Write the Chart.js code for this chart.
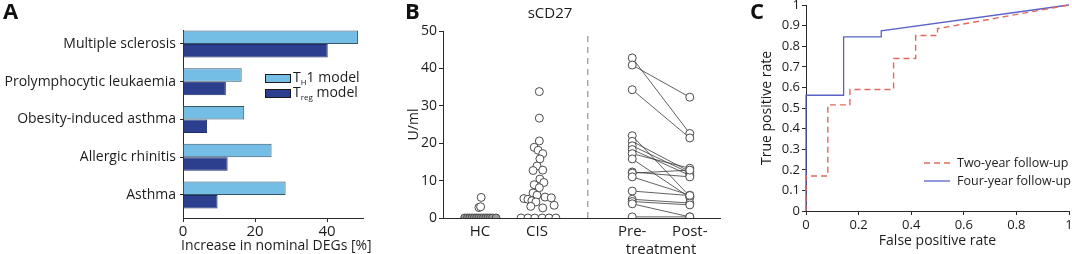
<!DOCTYPE html>
<html>
<head>
<meta charset="utf-8">
<script src="https://cdn.jsdelivr.net/npm/chart.js@4.4.1/dist/chart.umd.min.js"></script>
<style>
  html, body { margin: 0; padding: 0; background: #fff; }
  #wrap { position: relative; width: 1072px; height: 254px; overflow: hidden; }
  canvas { position: absolute; top: 0; }
</style>
</head>
<body>
<div id="wrap">
  <canvas id="chartA" width="380" height="254" style="left:0px"></canvas>
  <canvas id="chartB" width="345" height="254" style="left:380px"></canvas>
  <canvas id="chartC" width="347" height="254" style="left:725px"></canvas>
</div>
<script>
// ---- Panel A data ----
const categories = ['Multiple sclerosis', 'Prolymphocytic leukaemia', 'Obesity-induced asthma', 'Allergic rhinitis', 'Asthma'];
const th1Values = [48.6, 16.3, 17.0, 24.6, 28.5];
const tregValues = [40.2, 11.9, 6.7, 12.4, 9.6];
const xTicksA = [0, 20, 40];
const xTitleA = 'Increase in nominal DEGs [%]';

// ---- Panel B data ----
const groupLabels = ['HC', 'CIS', 'Pre-', ['', 'treatment'], 'Post-'];
const groupPositions = [1, 2, 3.67, 4.175, 4.68];
const hcValues = [0, 0, 0, 0, 0, 0, 0, 0, 0, 0, 0, 0, 0, 0, 2.8, 3.0, 5.5];
const hcOffsets = [-0.27, -0.22, -0.18, -0.14, -0.1, -0.06, -0.02, 0.02, 0.06, 0.1, 0.14, 0.18, 0.22, 0.28, -0.02, 0.01, 0.02];
const cisValues = [33.8, 26.7, 20.6, 18.9, 18.1, 17.2, 15.8, 13.9, 12.7, 12.8, 10.4, 9.5, 8.9, 8.1, 6.7, 6.1, 5.6, 5.2, 5.0, 4.6, 4.3, 5.4, 3.4, 3.1, 2.7, 0, 0, 0, 0, 0, 0];
const cisOffsets = [0.04, 0.04, 0.04, -0.05, 0.02, 0.1, 0.05, 0, -0.07, 0.1, 0.05, 0.12, -0.05, 0.04, -0.07, 0, 0.14, -0.23, -0.16, -0.09, -0.02, 0.25, 0.3, -0.11, 0.1, -0.28, -0.16, -0.04, 0.09, 0.21, 0.33];
const cisMedian = 5.6;
const preValues = [42.8, 40.9, 34.3, 22.0, 20.5, 19.3, 18.3, 17.2, 15.8, 12.3, 12.0, 11.0, 7.2, 5.0, 4.4, 3.8, 0.3];
const postValues = [22.6, 32.3, 21.4, 5.8, 12.4, 12.0, 11.4, 13.3, 5.5, 11.0, 12.8, 6.1, 6.0, 4.0, 3.5, 0.3, 0.3];
const dividerX = 2.89;

// ---- Panel C data ----
const twoYearFpr = [0, 0, 0.083, 0.083, 0.167, 0.167, 0.333, 0.333, 0.417, 0.417, 0.5, 0.5, 1];
const twoYearTpr = [0, 0.17, 0.17, 0.515, 0.515, 0.59, 0.59, 0.74, 0.74, 0.852, 0.852, 0.885, 1];
const fourYearFpr = [0, 0, 0.143, 0.143, 0.286, 0.286, 1];
const fourYearTpr = [0, 0.562, 0.562, 0.845, 0.845, 0.875, 1];

const LIGHT = '#74bde4';
const DARK = '#2b3f8e';
const AXIS = '#2a2a2a';
const RED = '#df6a5e';
const BLUE = '#5a62c6';

Chart.defaults.font.family = "'Open Sans', 'DejaVu Sans', sans-serif";
Chart.defaults.color = '#1c1c1c';
Chart.defaults.animation = false;

// pin a scale's box size and drop the label overhang padding
function pinSize(prop, size) {
    return s => {
        s[prop] = size;
        s.paddingTop = 0;
        s.paddingBottom = 0;
        s.paddingLeft = 0;
        s.paddingRight = 0;
    };
}

// panel letter (A, B, C)
function panelLetter(letter, x, y) {
    return {
        id: 'letter' + letter,
        afterDraw(chart) {
            const ctx = chart.ctx;
            ctx.save();
            ctx.font = "bold 22px 'Open Sans', sans-serif";
            ctx.fillStyle = '#111';
            ctx.textBaseline = 'alphabetic';
            ctx.fillText(letter, x, y);
            ctx.restore();
        }
    };
}

// legend with subscripts + x title for panel A (title is wider than the plot)
const legendA = {
    id: 'legendA',
    afterDraw(chart) {
        const ctx = chart.ctx;
        const rows = [
            {color: LIGHT, sub: 'H', rest: '1 model', y: 78},
            {color: DARK, sub: 'reg', rest: ' model', y: 93}
        ];
        ctx.save();
        rows.forEach(r => {
            ctx.fillStyle = r.color;
            ctx.fillRect(265, r.y - 4, 25, 8);
            ctx.strokeStyle = '#1a1a1a';
            ctx.lineWidth = 1;
            ctx.strokeRect(265.5, r.y - 3.5, 25, 8);
            ctx.fillStyle = '#1c1c1c';
            ctx.textBaseline = 'middle';
            ctx.font = "14px 'Open Sans', sans-serif";
            let x = 293;
            ctx.fillText('T', x, r.y);
            x += ctx.measureText('T').width;
            ctx.font = "8px 'Open Sans', sans-serif";
            ctx.fillText(r.sub, x, r.y + 5);
            x += ctx.measureText(r.sub).width;
            ctx.font = "14px 'Open Sans', sans-serif";
            ctx.fillText(r.rest, x, r.y);
        });
        ctx.font = "14px 'Open Sans', sans-serif";
        ctx.textBaseline = 'middle';
        ctx.fillText(xTitleA, 181, 246);
        ctx.restore();
    }
};

// legend for panel C
const legendC = {
    id: 'legendC',
    afterDraw(chart) {
        const ctx = chart.ctx;
        const rows = [
            {color: RED, dash: [6, 4], text: 'Two-year follow-up', y: 163},
            {color: BLUE, dash: [], text: 'Four-year follow-up', y: 181}
        ];
        ctx.save();
        rows.forEach(r => {
            ctx.strokeStyle = r.color;
            ctx.lineWidth = 1.3;
            ctx.setLineDash(r.dash);
            ctx.beginPath();
            ctx.moveTo(199, r.y);
            ctx.lineTo(225, r.y);
            ctx.stroke();
            ctx.setLineDash([]);
            ctx.fillStyle = '#1c1c1c';
            ctx.font = "12.5px 'Open Sans', sans-serif";
            ctx.textBaseline = 'middle';
            ctx.fillText(r.text, 232, r.y);
        });
        ctx.restore();
    }
};

// ---------- Panel A ----------
new Chart(document.getElementById('chartA'), {
    type: 'bar',
    data: {
        datasets: [
            {
                label: 'TH1 model',
                data: th1Values.map((v, i) => ({x: v, y: i})),
                backgroundColor: LIGHT,
                borderColor: '#36566a',
                borderWidth: 1,
                categoryPercentage: 0.72,
                barPercentage: 1
            },
            {
                label: 'Treg model',
                data: tregValues.map((v, i) => ({x: v, y: i})),
                backgroundColor: DARK,
                borderColor: '#1f2d66',
                borderWidth: 1,
                categoryPercentage: 0.72,
                barPercentage: 1
            }
        ]
    },
    options: {
        indexAxis: 'y',
        responsive: false,
        devicePixelRatio: 1,
        layout: {padding: {left: 0, right: 17, top: 30, bottom: 0}},
        plugins: {legend: {display: false}, tooltip: {enabled: false}},
        scales: {
            x: {
                type: 'linear', min: 0, max: 50,
                afterBuildTicks: s => { s.ticks = xTicksA.map(v => ({value: v})); },
                grid: {drawOnChartArea: false, tickLength: 4, color: AXIS},
                border: {color: AXIS, width: 1},
                ticks: {font: {size: 15}, padding: 1},
                afterFit: pinSize('height', 36)
            },
            y: {
                type: 'linear', reverse: true, min: -0.37, max: 4.61,
                offset: false,
                afterBuildTicks: s => { s.ticks = categories.map((c, i) => ({value: i})); },
                grid: {drawOnChartArea: false, tickLength: 3, color: AXIS, offset: false},
                border: {color: AXIS, width: 1},
                ticks: {font: {size: 14}, padding: 4, callback: v => categories[v]},
                afterFit: pinSize('width', 183)
            }
        }
    },
    plugins: [panelLetter('A', 3, 19), legendA]
});

// ---------- Panel B ----------
const pairLines = preValues.map((v, i) => ({
    type: 'scatter',
    data: [{x: groupPositions[2], y: v}, {x: groupPositions[4], y: postValues[i]}],
    showLine: true,
    borderColor: '#3a3a3a',
    borderWidth: 0.8,
    pointRadius: 0,
    order: 2
}));

const pointStyle = {
    pointRadius: 4,
    pointBorderWidth: 1,
    pointBorderColor: '#4a4a4a',
    order: 0
};

new Chart(document.getElementById('chartB'), {
    type: 'scatter',
    data: {
        datasets: [
            {
                data: [{x: dividerX, y: 0}, {x: dividerX, y: 50}],
                showLine: true, borderColor: '#9a9a9a', borderWidth: 1.3,
                borderDash: [6, 5], pointRadius: 0, order: 3
            },
            ...pairLines,
            {
                data: [{x: groupPositions[1] - 0.3, y: cisMedian}, {x: groupPositions[1] + 0.32, y: cisMedian}],
                showLine: true, borderColor: '#111', borderWidth: 1.4, pointRadius: 0, order: 1
            },
            Object.assign({
                data: hcValues.map((v, i) => ({x: groupPositions[0] + hcOffsets[i], y: v})),
                pointBackgroundColor: hcValues.map(v => v === 0 ? '#9c9c9c' : '#ffffff')
            }, pointStyle),
            Object.assign({
                data: cisValues.map((v, i) => ({x: groupPositions[1] + cisOffsets[i], y: v})),
                pointBackgroundColor: '#ffffff'
            }, pointStyle),
            Object.assign({
                data: preValues.map(v => ({x: groupPositions[2], y: v})),
                pointBackgroundColor: '#ffffff'
            }, pointStyle),
            Object.assign({
                data: postValues.map(v => ({x: groupPositions[4], y: v})),
                pointBackgroundColor: '#ffffff'
            }, pointStyle)
        ]
    },
    options: {
        responsive: false,
        devicePixelRatio: 1,
        layout: {padding: {left: 0, right: 5, top: 0, bottom: 0}},
        plugins: {
            legend: {display: false},
            tooltip: {enabled: false},
            title: {display: true, text: 'sCD27', font: {size: 15, weight: 'normal'}, color: '#1c1c1c', padding: {top: 5, bottom: 8}}
        },
        scales: {
            x: {
                type: 'linear', min: 0.35, max: 5.21,
                afterBuildTicks: s => { s.ticks = groupPositions.map(v => ({value: v})); },
                grid: {drawOnChartArea: false, drawTicks: false},
                border: {color: AXIS, width: 1},
                ticks: {font: {size: 15}, padding: 5, maxRotation: 0, autoSkip: false, callback: (v, i) => groupLabels[i]},
                afterFit: pinSize('height', 36)
            },
            y: {
                type: 'linear', min: 0, max: 50,
                ticks: {stepSize: 10, font: {size: 14}, padding: 2},
                grid: {drawOnChartArea: false, tickLength: 4, color: AXIS},
                border: {color: AXIS, width: 1},
                title: {display: true, text: 'U/ml', font: {size: 14}, padding: {top: 26, bottom: 0}},
                afterFit: pinSize('width', 63)
            }
        }
    },
    plugins: [panelLetter('B', 25, 19)]
});

// ---------- Panel C ----------
const fmt = v => String(Math.round(v * 10) / 10);

new Chart(document.getElementById('chartC'), {
    type: 'scatter',
    data: {
        datasets: [
            {
                label: 'Two-year follow-up',
                data: twoYearFpr.map((v, i) => ({x: v, y: twoYearTpr[i]})),
                showLine: true, borderColor: RED, borderWidth: 1.4, borderDash: [6, 4],
                pointRadius: 0, clip: false
            },
            {
                label: 'Four-year follow-up',
                data: fourYearFpr.map((v, i) => ({x: v, y: fourYearTpr[i]})),
                showLine: true, borderColor: BLUE, borderWidth: 1.3,
                pointRadius: 0, clip: false
            }
        ]
    },
    options: {
        responsive: false,
        devicePixelRatio: 1,
        layout: {padding: {left: 0, right: 3, top: 5, bottom: 0}},
        plugins: {legend: {display: false}, tooltip: {enabled: false}},
        scales: {
            x: {
                type: 'linear', min: 0, max: 1,
                ticks: {stepSize: 0.2, font: {size: 13}, padding: 2, callback: fmt},
                grid: {drawOnChartArea: false, tickLength: 4, color: AXIS},
                border: {color: AXIS, width: 1},
                title: {display: true, text: 'False positive rate', font: {size: 14}, padding: {top: 0, bottom: 5}},
                afterFit: pinSize('height', 43)
            },
            y: {
                type: 'linear', min: 0, max: 1,
                ticks: {stepSize: 0.1, font: {size: 13}, padding: 2, callback: fmt},
                grid: {drawOnChartArea: false, tickLength: 4, color: AXIS},
                border: {color: AXIS, width: 1},
                title: {display: true, text: 'True positive rate', font: {size: 14}, padding: {top: 34, bottom: 0}},
                afterFit: pinSize('width', 81)
            }
        }
    },
    plugins: [panelLetter('C', 25, 19), legendC]
});
</script>
</body>
</html>
